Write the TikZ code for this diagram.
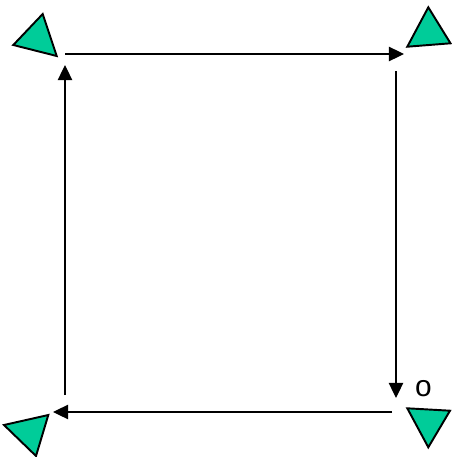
\documentclass[tikz,border=0pt]{standalone}
\usepackage{fontspec}
\setmainfont{Liberation Sans}
\usepackage{xcolor}
\usetikzlibrary{arrows.meta}
\definecolor{tri}{HTML}{00CC99}

\begin{document}
\begin{tikzpicture}[
  x=0.02cm, y=-0.02cm,
  tribox/.style={draw=black, fill=tri, line width=1.1pt, line join=miter},
  arr/.style={-{Triangle[length=8.6pt, width=8.2pt]}, line width=0.7pt, black}
]
\useasboundingbox (0,0) rectangle (451,457);
% triangles at the corners
\path[tribox] (42.7,14) -- (13.3,45) -- (56.7,56) -- cycle;
\path[tribox] (428.3,7.3) -- (407.3,46.7) -- (450.5,43.3) -- cycle;
\path[tribox] (4,425) -- (48.3,415) -- (36,456) -- cycle;
\path[tribox] (407.3,408.3) -- (450,410.7) -- (428.3,447.3) -- cycle;
% arrow ends
\coordinate (topA) at (65,54);
\coordinate (topB) at (404,54);
\coordinate (rgtA) at (396,71);
\coordinate (rgtB) at (396,398);
\coordinate (botA) at (392,412);
\coordinate (botB) at (53,412);
\coordinate (lftA) at (65,395);
\coordinate (lftB) at (65,65);
\node[inner sep=0pt, font=\fontsize{17}{20}\selectfont] (mark) at (423.5,389) {o};
\draw[arr] (topA) -- (topB);
\draw[arr] (rgtA) -- (rgtB);
\draw[arr] (botA) -- (botB);
\draw[arr] (lftA) -- (lftB);
\end{tikzpicture}
\end{document}
